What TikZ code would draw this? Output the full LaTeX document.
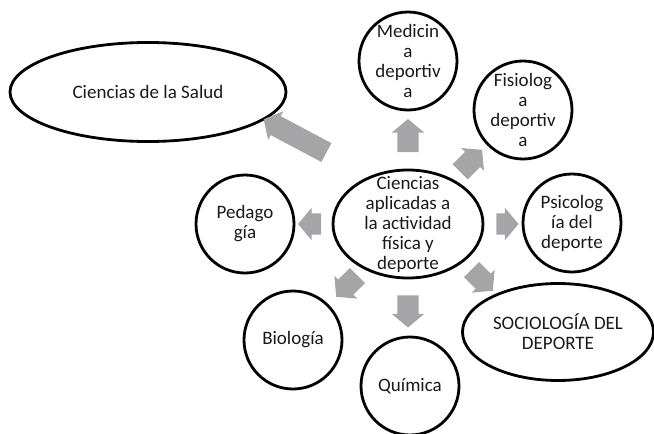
\documentclass[tikz,border=0pt]{standalone}
\usepackage{fontspec}
\setmainfont{Carlito}
\usetikzlibrary{shapes.geometric,shapes.arrows}
\definecolor{arrowgray}{RGB}{165,165,167}

\begin{document}
\begin{tikzpicture}[x=1pt, y=-1pt,
    topic/.style={circle, draw=black, line width=2.8pt, minimum size=98pt,
        inner sep=0pt},
    wide/.style={ellipse, draw=black, line width=2.8pt, inner sep=0pt},
    txt/.style={align=center, font=\fontsize{19}{20}\selectfont,
        text=black!90, inner sep=0pt},
    fat/.style={single arrow, fill=arrowgray, draw=none, minimum width=32pt,
        single arrow head extend=5.5pt, single arrow tip angle=100,
        inner xsep=0pt, inner ysep=10.5pt},
]
\useasboundingbox (0,0) rectangle (654,434);

% Centre
\node[wide, minimum width=150pt, minimum height=108pt,
    label={[txt]center:{Ciencias\\aplicadas a\\la actividad\\física y\\deporte}}]
    (core) at (408,224) {};

% Top row
\node[wide, minimum width=276pt, minimum height=99pt,
    label={[txt]center:{Ciencias de la Salud}}] (salud) at (148,92) {};
\node[topic, label={[txt]center:{Medicin\\a\\deportiv\\a}}] (med) at (408,61) {};
\node[topic, label={[txt]center:{Fisiolog\\a\\deportiv\\a}}] (fisio) at (523,110) {};

% Middle row
\node[topic, label={[txt]center:{Pedago\\gía}}] (peda) at (245,224) {};
\node[topic, label={[txt]center:{Psicolog\\ía del\\deporte}}] (psico) at (572,223) {};

% Bottom row
\node[topic, label={[txt]center:{Biología}}] (bio) at (293,340) {};
\node[topic, label={[txt]center:{Química}}] (quim) at (410,386) {};
\node[wide, minimum width=191pt, minimum height=97pt,
    label={[txt]center:{SOCIOLOGÍA DEL\\DEPORTE}}] (socio) at (558,332) {};

% Block arrows out of the centre
\node[fat, minimum height=71pt, rotate=152] (toSalud) at (299,138) {};
\node[fat, minimum height=33pt, rotate=90]  (toMed)   at (408,140) {};
\node[fat, minimum height=31pt, rotate=45]  (toFisio) at (468,164) {};
\node[fat, minimum height=22pt, rotate=0]   (toPsico) at (503,224) {};
\node[fat, minimum height=30pt, rotate=-45] (toSocio) at (479,277) {};
\node[fat, minimum height=32pt, rotate=-90] (toQuim)  at (408,307) {};
\node[fat, minimum height=30pt, rotate=-135] (toBio)  at (350,283) {};
\node[fat, minimum height=23pt, rotate=180] (toPeda)  at (314,224) {};

\end{tikzpicture}
\end{document}
